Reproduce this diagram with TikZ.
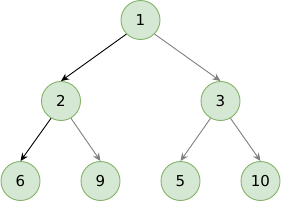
\documentclass[tikz,border=0pt]{standalone}
\usepackage{fontspec}
\setmainfont{DejaVu Sans}
\usetikzlibrary{arrows.meta}
\definecolor{nodefill}{HTML}{D5E8D4}
\definecolor{nodeline}{HTML}{82B366}
\definecolor{edgegray}{HTML}{808080}
\begin{document}
\begin{tikzpicture}[x=1pt,y=-1pt,
  treenode/.style={circle,draw=nodeline,fill=nodefill,line width=0.9pt,minimum size=39pt,inner sep=0pt,font=\fontsize{15}{15}\selectfont},
  edgeblack/.style={draw=black,line width=0.9pt,-{Stealth[length=8pt,width=7pt,inset=2.5pt]}},
  edgegrey/.style={draw=edgegray,line width=0.9pt,-{Stealth[length=8pt,width=7pt,inset=2.5pt]}}]
\useasboundingbox (0,0) rectangle (281,201);
\node[treenode] (n1) at (140.5,20) {1};
\node[treenode] (n2) at (61,101) {2};
\node[treenode] (n3) at (220.5,101) {3};
\node[treenode] (n6) at (20.5,181) {6};
\node[treenode] (n9) at (100.5,181) {9};
\node[treenode] (n5) at (180.5,181) {5};
\node[treenode] (n10) at (260.5,181) {10};
\draw[edgeblack] (n1.225) -- (n2.north);
\draw[edgegrey] (n1.315) -- (n3.north);
\draw[edgeblack] (n2.240) -- (n6.north);
\draw[edgegrey] (n2.300) -- (n9.north);
\draw[edgegrey] (n3.240) -- (n5.north);
\draw[edgegrey] (n3.300) -- (n10.north);
\end{tikzpicture}
\end{document}
